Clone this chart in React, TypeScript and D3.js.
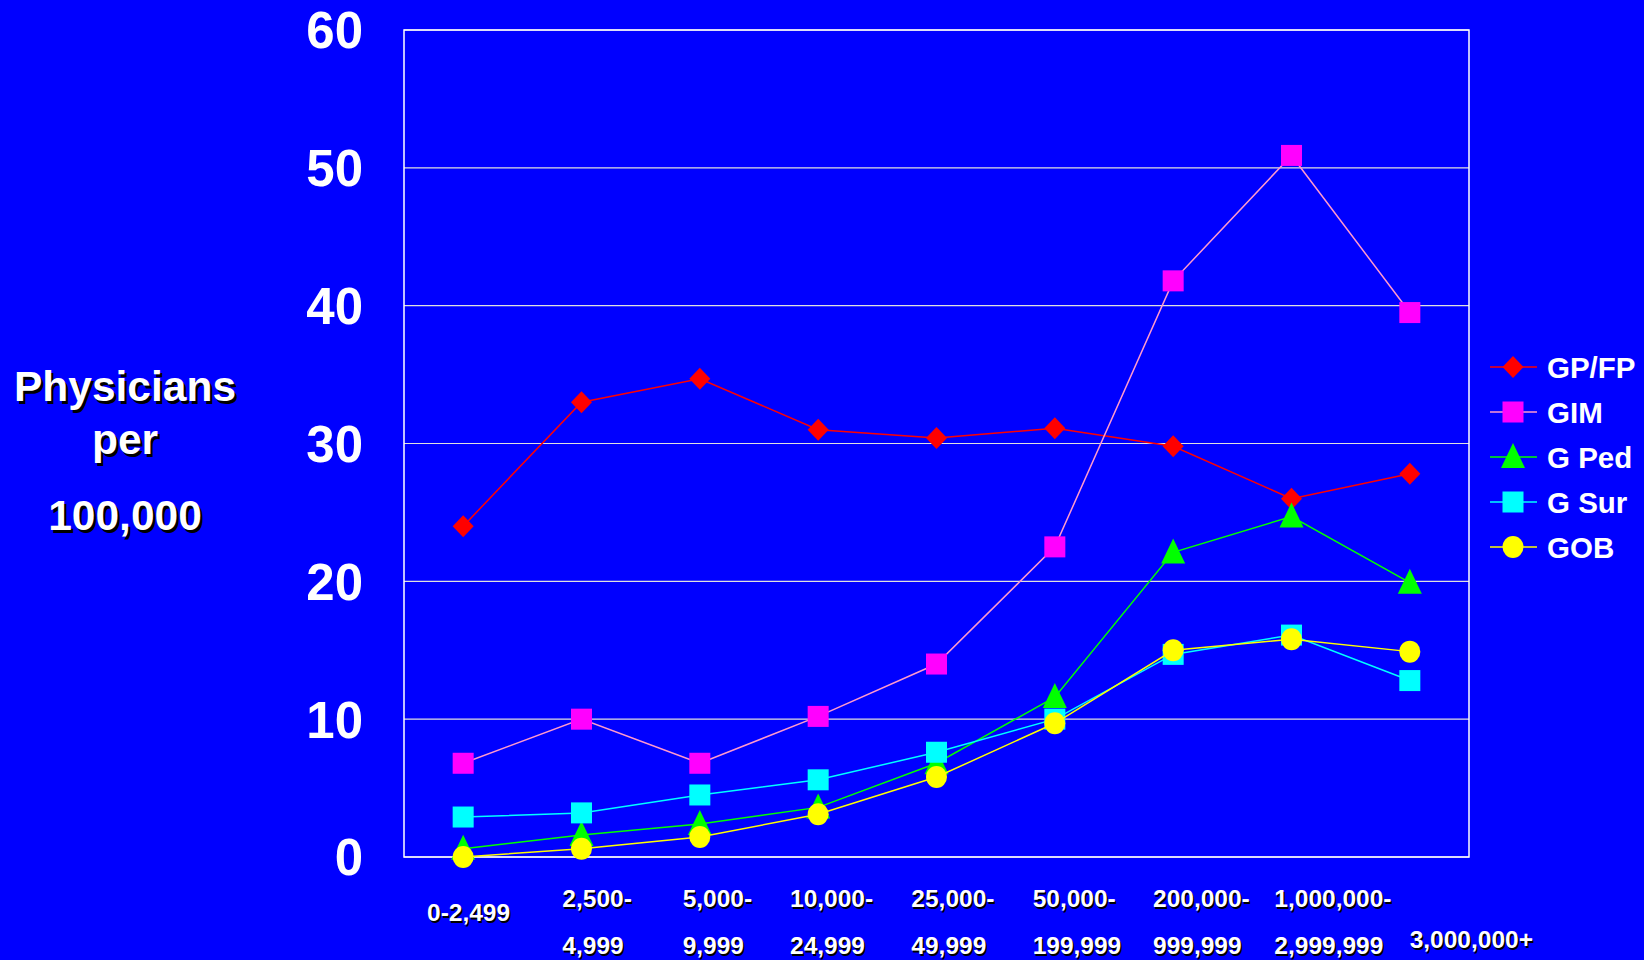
import * as d3 from "d3";
import React, { useEffect, useRef } from "react";

const categories = [
  ["0-2,499"],
  ["2,500-", "4,999"],
  ["5,000-", "9,999"],
  ["10,000-", "24,999"],
  ["25,000-", "49,999"],
  ["50,000-", "199,999"],
  ["200,000-", "999,999"],
  ["1,000,000-", "2,999,999"],
  ["3,000,000+"],
];

const gpFp = [24.0, 33.0, 34.7, 31.0, 30.4, 31.1, 29.8, 26.0, 27.8];
const gim = [6.8, 10.0, 6.8, 10.2, 14.0, 22.5, 41.8, 50.9, 39.5];
const gPed = [0.6, 1.6, 2.4, 3.6, 6.8, 11.6, 22.1, 24.7, 19.9];
const gSur = [2.9, 3.2, 4.5, 5.6, 7.6, 10.0, 14.7, 16.1, 12.8];
const gob = [0.0, 0.6, 1.45, 3.1, 5.8, 9.7, 15.0, 15.8, 14.9];

const yTicks = [0, 10, 20, 30, 40, 50, 60];

// hand-placed text boxes in the original: left edge offset from the band start
const xLabelNudge = [23, 40, 42, 31, 34, 37, 39, 42, 59];

interface Series {
  name: string;
  values: number[];
  color: string;
  lineColor: string;
  shape: "diamond" | "square" | "triangle" | "circle";
}

const series: Series[] = [
  { name: "GP/FP", values: gpFp, color: "#ff0000", lineColor: "#ff0000", shape: "diamond" },
  { name: "GIM", values: gim, color: "#ff00ff", lineColor: "#ff99cc", shape: "square" },
  { name: "G Ped", values: gPed, color: "#00ff00", lineColor: "#00ff00", shape: "triangle" },
  { name: "G Sur", values: gSur, color: "#00ffff", lineColor: "#00ffff", shape: "square" },
  { name: "GOB", values: gob, color: "#ffff00", lineColor: "#ffff00", shape: "circle" },
];

const App: React.FC = () => {
  const svgRef = useRef<SVGSVGElement>(null);

  useEffect(() => {
    if (!svgRef.current) return;
    const svg = d3.select(svgRef.current);
    const width = 1644;
    const height = 960;
    svg.selectAll("*").remove();
    svg.attr("width", width).attr("height", height);

    const font = "'Liberation Sans', Arial, sans-serif";
    const plot = { left: 404, right: 1469, top: 30, bottom: 857 };

    svg.append("rect").attr("width", width).attr("height", height).attr("fill", "#0000ff");

    const x = d3
      .scaleBand<number>()
      .domain(d3.range(categories.length))
      .range([plot.left, plot.right])
      .padding(0);
    const cx = (i: number) => (x(i) as number) + x.bandwidth() / 2;
    const y = d3.scaleLinear().domain([0, 60]).range([plot.bottom, plot.top]);

    // Gridlines
    svg
      .append("g")
      .selectAll("line")
      .data(yTicks)
      .enter()
      .append("line")
      .attr("x1", plot.left)
      .attr("x2", plot.right)
      .attr("y1", (d) => y(d))
      .attr("y2", (d) => y(d))
      .attr("stroke", "#e0e0e0")
      .attr("stroke-width", 1.2);

    // Plot border
    svg
      .append("rect")
      .attr("x", plot.left)
      .attr("y", plot.top)
      .attr("width", plot.right - plot.left)
      .attr("height", plot.bottom - plot.top)
      .attr("fill", "none")
      .attr("stroke", "#ffffff")
      .attr("stroke-width", 1.5);

    // Y tick labels
    svg
      .append("g")
      .selectAll("text")
      .data(yTicks)
      .enter()
      .append("text")
      .attr("x", 363)
      .attr("y", (d) => y(d))
      .attr("dy", "0.36em")
      .attr("text-anchor", "end")
      .attr("font-family", font)
      .attr("font-weight", "bold")
      .attr("font-size", 51)
      .attr("fill", "#ffffff")
      .text((d) => d);

    // Shadowed text helper
    const shadowText = (
      g: d3.Selection<SVGGElement, unknown, null, undefined>,
      tx: number,
      ty: number,
      str: string,
      size: number,
      off: number,
      anchor = "middle"
    ) => {
      [
        { dx: off, dy: off, fill: "#000000" },
        { dx: 0, dy: 0, fill: "#ffffff" },
      ].forEach((s) => {
        g.append("text")
          .attr("x", tx + s.dx)
          .attr("y", ty + s.dy)
          .attr("text-anchor", anchor)
          .attr("font-family", font)
          .attr("font-weight", "bold")
          .attr("font-size", size)
          .attr("fill", s.fill)
          .text(str);
      });
    };

    // Y axis title
    const title = svg.append("g");
    shadowText(title, 125, 401, "Physicians", 42.5, 2.5);
    shadowText(title, 125, 454, "per", 42.5, 2.5);
    shadowText(title, 125, 530, "100,000", 42.5, 2.5);

    // X labels
    const xl = svg.append("g");
    categories.forEach((lines, i) => {
      const px = (x(i) as number) + xLabelNudge[i];
      if (lines.length === 2) {
        shadowText(xl, px, 907, lines[0], 24.5, 1.5, "start");
        shadowText(xl, px, 954, lines[1], 24.5, 1.5, "start");
      } else if (i === 0) {
        shadowText(xl, px, 921, lines[0], 24.5, 1.5, "start");
      } else {
        shadowText(xl, px, 948, lines[0], 24.5, 1.5, "start");
      }
    });

    const drawMarker = (
      g: d3.Selection<SVGGElement, unknown, null, undefined>,
      shape: Series["shape"],
      mx: number,
      my: number,
      color: string
    ) => {
      if (shape === "square") {
        g.append("rect")
          .attr("x", mx - 10.5)
          .attr("y", my - 10.5)
          .attr("width", 21)
          .attr("height", 21)
          .attr("fill", color);
      } else if (shape === "diamond") {
        g.append("path")
          .attr("d", `M${mx},${my - 11}L${mx + 10.5},${my}L${mx},${my + 11}L${mx - 10.5},${my}Z`)
          .attr("fill", color);
      } else if (shape === "triangle") {
        g.append("path")
          .attr("d", `M${mx},${my - 14}L${mx + 12},${my + 11}L${mx - 12},${my + 11}Z`)
          .attr("fill", color);
      } else {
        g.append("ellipse")
          .attr("cx", mx)
          .attr("cy", my)
          .attr("rx", 10.5)
          .attr("ry", 11)
          .attr("fill", color);
      }
    };

    const line = d3
      .line<number>()
      .x((_, i) => cx(i))
      .y((d) => y(d));

    series.forEach((s) => {
      const g = svg.append("g");
      g.append("path")
        .datum(s.values)
        .attr("fill", "none")
        .attr("stroke", s.lineColor)
        .attr("stroke-width", 1.5)
        .attr("d", line);
      s.values.forEach((v, i) => drawMarker(g, s.shape, cx(i), y(v), s.color));
    });

    // Legend
    const legend = svg.append("g");
    series.forEach((s, i) => {
      const ly = 367 + i * 45;
      legend
        .append("line")
        .attr("x1", 1490)
        .attr("x2", 1537)
        .attr("y1", ly)
        .attr("y2", ly)
        .attr("stroke", s.lineColor)
        .attr("stroke-width", 1.5);
      drawMarker(legend, s.shape, 1513, ly, s.color);
      legend
        .append("text")
        .attr("x", 1547)
        .attr("y", ly)
        .attr("dy", "0.36em")
        .attr("font-family", font)
        .attr("font-weight", "bold")
        .attr("font-size", 29.5)
        .attr("fill", "#ffffff")
        .text(s.name);
    });
  }, []);

  return (
    <svg
      ref={svgRef}
      style={{ position: "absolute", left: 0, top: 0, display: "block" }}
    ></svg>
  );
};

export default App;
